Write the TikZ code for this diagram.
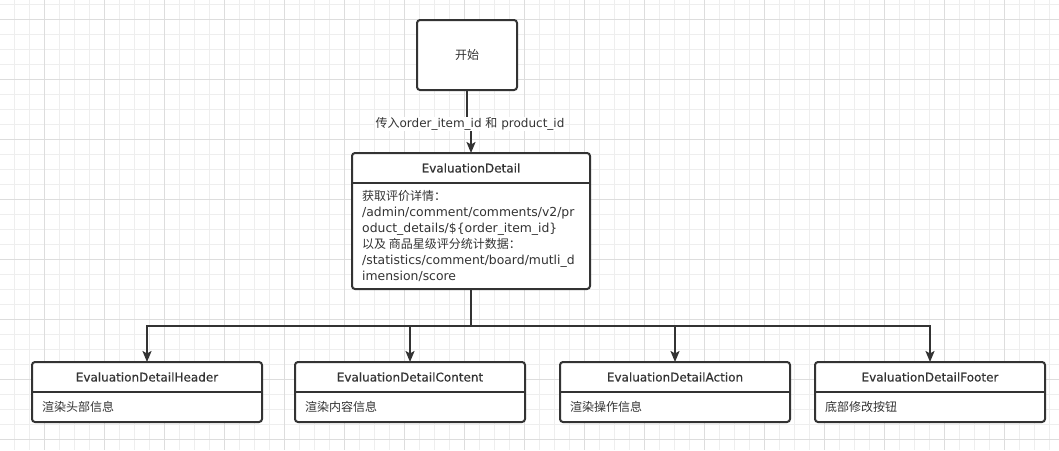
\documentclass[tikz,border=0pt]{standalone}
\usepackage{fontspec}
\setmainfont{DejaVu Sans}
\newfontfamily\cjk{Noto Sans CJK SC}
\newfontfamily\medfont{DejaVu Sans}[FakeBold=0.5]
\usetikzlibrary{arrows.meta,calc}
\definecolor{linec}{HTML}{333333}
\definecolor{txtc}{HTML}{333333}
\definecolor{gridminor}{HTML}{EEEEEE}
\definecolor{gridmajor}{HTML}{DDDDDD}
\newcommand{\zh}[1]{{\fontsize{12}{16}\selectfont\cjk #1}}
\tikzset{
  box/.style={draw=linec, line width=2pt, rounded corners=3pt, fill=white, inner sep=0pt, outer sep=0pt},
  sepline/.style={draw=linec, line width=2pt},
  titletxt/.style={font=\fontsize{12}{14}\selectfont\medfont, text=txtc, inner sep=0pt},
  bodytxt/.style={font=\fontsize{12.4}{16}\selectfont, text=txtc, inner sep=0pt, align=left},
  lbl/.style={font=\fontsize{12}{14}\selectfont, text=txtc, fill=white, inner sep=1pt},
  arr/.style={draw=linec, line width=2pt, -{Stealth[length=11pt,width=9pt,inset=2.5pt]}},
  conn/.style={draw=linec, line width=2pt},
  gminor/.style={draw=gridminor, line width=1pt},
  gmajor/.style={draw=gridmajor, line width=1pt}
}
\begin{document}
\begin{tikzpicture}[x=1pt,y=-1pt]
\useasboundingbox (0,0) rectangle (1059,450);
\fill[white] (0,0) rectangle (1059,450);
% grid
\foreach \k in {0,...,69} { \draw[gminor] (14.3+15*\k,0) -- (14.3+15*\k,450); }
\foreach \k in {0,...,29} { \draw[gminor] (0,4+15*\k) -- (1059,4+15*\k); }
\foreach \k in {0,...,17} { \draw[gmajor] (44.3+60*\k,0) -- (44.3+60*\k,450); }
\foreach \k in {0,...,7} { \draw[gmajor] (0,19+60*\k) -- (1059,19+60*\k); }

% start
\node[box, minimum width=100pt, minimum height=70pt, text=txtc] (start) at (467,55) {\zh{开始}};

% detail
\node[box, minimum width=238pt, minimum height=136pt] (detail) at (471,221) {};
\draw[sepline] ($(detail.north west)+(0,30)$) -- ($(detail.north east)+(0,30)$);
\node[titletxt] (detailtitle) at (471,168) {EvaluationDetail};
\node[bodytxt, anchor=north west] (detailbody) at (362,190) {\zh{获取评价详情：}\\/admin/comment/comments/v2/pr\\oduct\_details/\$\{order\_item\_id\}\\\zh{以及 商品星级评分统计数据：}\\/statistics/comment/board/mutli\_d\\imension/score};

% children
\node[box, minimum width=230pt, minimum height=60pt] (header) at (147,392) {};
\draw[sepline] ($(header.north west)+(0,30)$) -- ($(header.north east)+(0,30)$);
\node[titletxt] (headertitle) at (147,377) {EvaluationDetailHeader};
\node[bodytxt, anchor=west] (headerbody) at (42,407) {\zh{渲染头部信息}};

\node[box, minimum width=230pt, minimum height=60pt] (content) at (410,392) {};
\draw[sepline] ($(content.north west)+(0,30)$) -- ($(content.north east)+(0,30)$);
\node[titletxt] (contenttitle) at (410,377) {EvaluationDetailContent};
\node[bodytxt, anchor=west] (contentbody) at (305,407) {\zh{渲染内容信息}};

\node[box, minimum width=230pt, minimum height=60pt] (action) at (675,392) {};
\draw[sepline] ($(action.north west)+(0,30)$) -- ($(action.north east)+(0,30)$);
\node[titletxt] (actiontitle) at (675,377) {EvaluationDetailAction};
\node[bodytxt, anchor=west] (actionbody) at (570,407) {\zh{渲染操作信息}};

\node[box, minimum width=230pt, minimum height=60pt] (footer) at (930,392) {};
\draw[sepline] ($(footer.north west)+(0,30)$) -- ($(footer.north east)+(0,30)$);
\node[titletxt] (footertitle) at (930,377) {EvaluationDetailFooter};
\node[bodytxt, anchor=west] (footerbody) at (825,407) {\zh{底部修改按钮}};

% connectors
\coordinate (j1) at (467,124);
\coordinate (j2) at (471,124);
\draw[arr] (start.south) -- (j1) -- (j2) -- (detail.north);
\node[lbl] (edgelabel) at (470,124) {\zh{传入}order\_item\_id \zh{和} product\_id};

\coordinate (bus) at (471,326);
\draw[conn] (detail.south) -- (bus);
\draw[arr] (bus) -| (header.north);
\draw[arr] (bus) -| (content.north);
\draw[arr] (bus) -| (action.north);
\draw[arr] (bus) -| (footer.north);
\end{tikzpicture}
\end{document}
